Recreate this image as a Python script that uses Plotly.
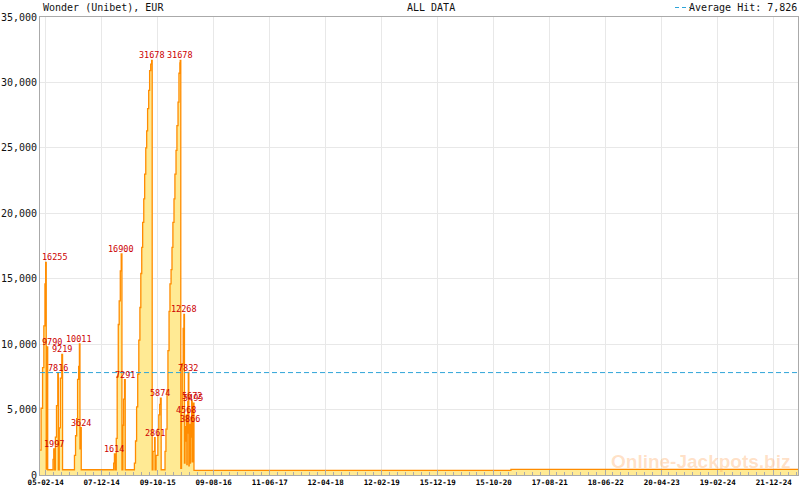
import plotly.graph_objects as go
import pandas as pd

TITLE = "Wonder (Unibet), EUR"
SUBTITLE = "ALL DATA"
AVERAGE_HIT = 7826
WATERMARK = "Online-Jackpots.biz"

dates = [
    "2014-01-05", "2014-01-11", "2014-01-19", "2014-01-26", "2014-02-01", "2014-02-05",
    "2014-02-08", "2014-02-11", "2014-02-14",
    "2014-02-16", "2014-03-17", "2014-03-21",
    "2014-03-25", "2014-03-30", "2014-04-05", "2014-04-12",
    "2014-04-15", "2014-04-20", "2014-04-26", "2014-05-04",
    "2014-05-08", "2014-07-12", "2014-07-18", "2014-07-24", "2014-07-29", "2014-08-04", "2014-08-08",
    "2014-08-11", "2014-08-14",
    "2014-08-18", "2015-02-11", "2015-02-15",
    "2015-02-19", "2015-02-25", "2015-03-02", "2015-03-08", "2015-03-13", "2015-03-19", "2015-03-24",
    "2015-03-28", "2015-04-02", "2015-04-06", "2015-04-11",
    "2015-04-15", "2015-06-04", "2015-06-10", "2015-06-16", "2015-06-22", "2015-06-28", "2015-07-04",
    "2015-07-09", "2015-07-14", "2015-07-19", "2015-07-25", "2015-07-30", "2015-08-05", "2015-08-10",
    "2015-08-15", "2015-08-21", "2015-08-26", "2015-09-01", "2015-09-06",
    "2015-09-09", "2015-09-13", "2015-09-22",
    "2015-09-25", "2015-09-30", "2015-10-10", "2015-10-15", "2015-10-20", "2015-10-24",
    "2015-10-28", "2015-11-18", "2015-11-23", "2015-11-29", "2015-12-04", "2015-12-10", "2015-12-15",
    "2015-12-21", "2015-12-26", "2015-12-31", "2016-01-06", "2016-01-11", "2016-01-17", "2016-01-22",
    "2016-01-28", "2016-02-02", "2016-02-07", "2016-02-09",
    "2016-02-12", "2016-02-16", "2016-02-20", "2016-02-25", "2016-02-29",
    "2016-03-03", "2016-03-06", "2016-03-09", "2016-03-13",
    "2016-03-16", "2016-03-18", "2016-03-21", "2016-03-24",
    "2016-03-27", "2016-03-29", "2016-03-31",
    "2016-04-02", "2016-04-05", "2016-04-08", "2016-04-11",
    "2016-04-14", "2016-04-17", "2016-04-21",
    "2016-04-24", "2021-01-17", "2025-05-02",
]

values = [
    1900, 5100, 8200, 11400, 14600, 16255,
    450, 5200, 9790,
    400, 1200, 1997,
    400, 2900, 5300, 7816,
    400, 3600, 7400, 9219,
    400, 1500, 3000, 4300, 7300, 8300, 10011,
    2000, 3624,
    400, 900, 1614,
    400, 2800, 7500, 11500, 13300, 15600, 16900,
    400, 3800, 5800, 7291,
    400, 900, 2600, 5200, 7700, 10300, 12800,
    15400, 17400, 19300, 21100, 23000, 25000, 26300,
    28000, 29400, 30900, 31400, 31678,
    400, 1800, 2861,
    400, 1500, 3500, 4600, 5400, 5874,
    400, 1800, 3500, 6500, 9500, 12500, 14600,
    15700, 17400, 19300, 21100, 23000, 24800, 26700,
    28500, 30700, 31500, 31678,
    500, 5000, 8500, 11200, 12268,
    900, 2600, 3700, 4568,
    800, 3200, 5600, 7832,
    700, 2300, 3866,
    900, 2900, 4400, 5672,
    1000, 3300, 5495,
    350, 430, 430,
]
assert len(dates) == len(values)

hit_dates = [
    "2014-02-05", "2014-02-14", "2014-03-21", "2014-04-12", "2014-05-04",
    "2014-08-08", "2014-08-14", "2015-02-15", "2015-03-24", "2015-04-11",
    "2015-09-06", "2015-09-22", "2015-10-24", "2016-02-09", "2016-02-29",
    "2016-03-13", "2016-03-24", "2016-03-31", "2016-04-11", "2016-04-21",
]
hit_values = [
    16255, 9790, 1997, 7816, 9219,
    10011, 3624, 1614, 16900, 7291,
    31678, 2861, 5874, 31678, 12268,
    4568, 7832, 3866, 5672, 5495,
]

tick_dates = [
    "2014-02-05", "2014-12-07", "2015-10-09", "2016-08-09", "2017-06-11",
    "2018-04-12", "2019-02-12", "2019-12-15", "2020-10-15", "2021-08-17",
    "2022-06-18", "2023-04-20", "2024-02-19", "2024-12-21",
]
tick_labels = [
    "05-02-14", "07-12-14", "09-10-15", "09-08-16", "11-06-17",
    "12-04-18", "12-02-19", "15-12-19", "15-10-20", "17-08-21",
    "18-06-22", "20-04-23", "19-02-24", "21-12-24",
]
x_range = ["2014-01-05", "2025-05-02"]
y_ticks = [0, 5000, 10000, 15000, 20000, 25000, 30000, 35000]

# ---- styling ----
W, H = 800, 490
ML, MR, MT, MB = 40, 2, 17, 15
PW, PH = W - ML - MR, H - MT - MB
MONO = "DejaVu Sans Mono"
ORANGE = "#FF8C00"
FILL = "#FFEA94"
RED = "#CC0000"
BLUE = "#2FA4D8"
GRID = "#E8E8E8"
AXIS = "#AAAAAA"


def py(pix):
    """pixel y (from top of figure) -> paper y"""
    return (H - MB - pix) / PH


def px(pix):
    return (pix - ML) / PW


fig = go.Figure()
fig.add_trace(go.Scatter(
    x=dates, y=values, mode="lines", line=dict(color=ORANGE, width=1.3, shape="hv"),
    fill="tozeroy", fillcolor=FILL, hoverinfo="skip", showlegend=False,
))

# minor ticks: 7 divisions between major ticks
tv = pd.to_datetime(tick_dates)
span = tv[1] - tv[0]
minor_vals = []
k = -1
while True:
    d = tv[0] + span * k / 7
    if d < pd.Timestamp(x_range[0]):
        break
    minor_vals.append(d)
    k -= 1
k = 1
while True:
    d = tv[0] + span * k / 7
    if d >= pd.Timestamp(x_range[1]):
        break
    if k % 7:
        minor_vals.append(d)
    k += 1

fig.add_shape(type="line", xref="paper", x0=0, x1=1, yref="y", y0=AVERAGE_HIT, y1=AVERAGE_HIT,
              line=dict(color=BLUE, width=1, dash="5px,3px"), layer="above")

# hit labels
r0, r1 = pd.Timestamp(x_range[0]), pd.Timestamp(x_range[1])
px_per_day = PW / (r1 - r0).days
char_w = 5.1
for d, v in zip(hit_dates, hit_values):
    txt = str(v)
    half_days = (len(txt) * char_w / 2 + 1) / px_per_day
    dd = pd.Timestamp(d)
    if (dd - r0).days < half_days:
        xa, xv = "left", x_range[0]
    else:
        xa, xv = "center", d
    fig.add_annotation(x=xv, y=v, xref="x", yref="y", text=txt, showarrow=False,
                       xanchor=xa, yanchor="bottom", yshift=-2,
                       font=dict(family=MONO, size=8.5, color=RED))

# header texts
fig.add_annotation(x=px(41), y=py(7), xref="paper", yref="paper", text=TITLE, showarrow=False,
                   xanchor="left", yanchor="middle", font=dict(family=MONO, size=10, color="#111"))
fig.add_annotation(x=px(405), y=py(7), xref="paper", yref="paper", text=SUBTITLE, showarrow=False,
                   xanchor="left", yanchor="middle", font=dict(family=MONO, size=10, color="#111"))
fig.add_annotation(x=px(799), y=py(7), xref="paper", yref="paper",
                   text=f"Average Hit: {AVERAGE_HIT:,}", showarrow=False,
                   xanchor="right", yanchor="middle", font=dict(family=MONO, size=10, color="#111"))
fig.add_shape(type="line", xref="paper", yref="paper", x0=px(675), x1=px(690), y0=py(7.5), y1=py(7.5),
              line=dict(color=BLUE, width=1, dash="4px,3px"))

# watermark
fig.add_annotation(x=px(700), y=py(461), xref="paper", yref="paper", text=WATERMARK, showarrow=False,
                   xanchor="center", yanchor="middle",
                   font=dict(family="Liberation Sans", size=19, color="rgba(255,160,80,0.33)", weight="bold"))

fig.update_layout(
    width=W, height=H, autosize=False,
    margin=dict(l=ML, r=MR, t=MT, b=MB, pad=0),
    paper_bgcolor="white", plot_bgcolor="white",
    showlegend=False,
    xaxis=dict(
        type="date", range=x_range, tickmode="array", tickvals=tick_dates, ticktext=tick_labels,
        tickfont=dict(family=MONO, size=7.5, color="#000", weight="bold"),
        ticks="inside", ticklen=5, tickcolor=AXIS, tickwidth=1,
        showgrid=True, gridcolor=GRID, gridwidth=1,
        showline=True, linecolor=AXIS, linewidth=1, mirror=True,
        zeroline=False, automargin=False,
        minor=dict(tickmode="array", tickvals=minor_vals, ticks="inside", ticklen=3,
                   tickcolor=AXIS, showgrid=False),
    ),
    yaxis=dict(
        range=[0, 35000], tickmode="array", tickvals=y_ticks, tickformat=",",
        tickfont=dict(family=MONO, size=10, color="#111"),
        showgrid=True, gridcolor=GRID, gridwidth=1,
        showline=True, linecolor=AXIS, linewidth=1, mirror=True,
        zeroline=False, automargin=False, ticks="",
    ),
)

fig.write_html("out.html", config={"displayModeBar": False},
               post_script="document.body.style.margin='0';document.body.style.overflow='hidden';")
